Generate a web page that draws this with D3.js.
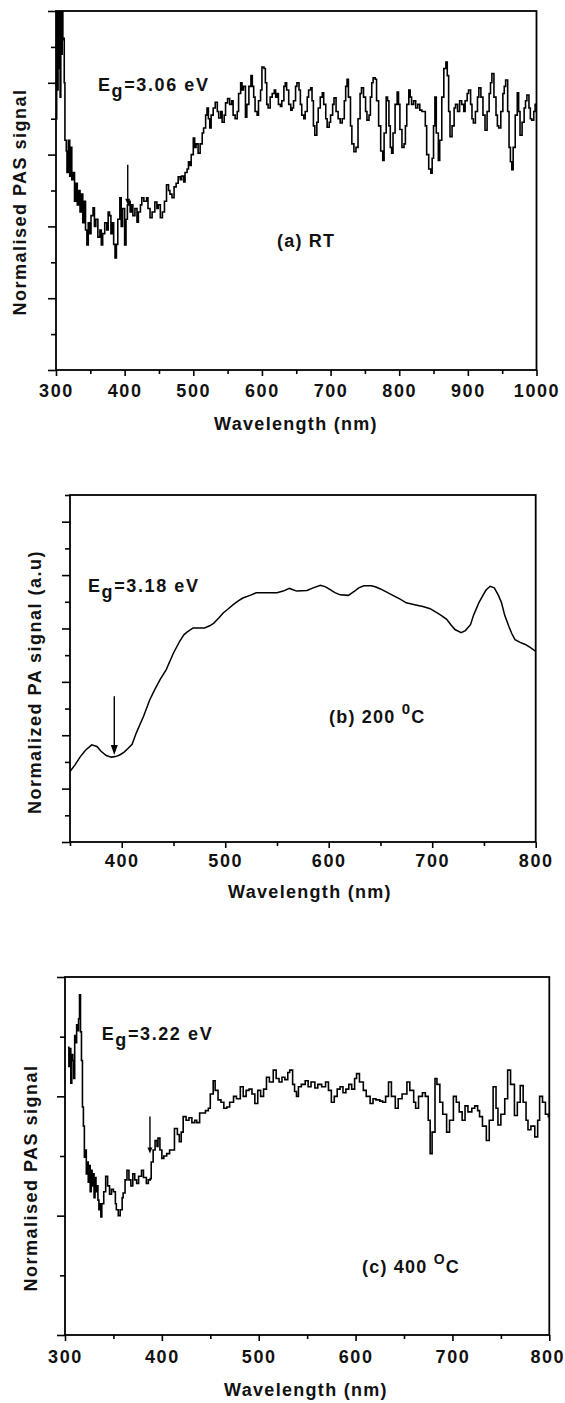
<!DOCTYPE html>
<html>
<head>
<meta charset="utf-8">
<script src="https://cdn.jsdelivr.net/npm/d3@7"></script>
<style>
  html, body { margin: 0; padding: 0; background: #fff; }
  svg { display: block; }
  text { font-family: Arial, "Liberation Sans", sans-serif; font-weight: bold; fill: #111; }
</style>
</head>
<body>
<svg id="chart" width="565" height="1403"></svg>
<script>
// ---------------- DATA ----------------
// (a) RT : [wavelength nm, normalised PAS signal (a.u.)]
const spectrumRT = [
[300,3.5],[301,5.4],[302,3.9],[303,5.4],[304,4.2],[305,5.4],[306,3.8],[307,5.4],[308,4.4],[309,5.3],[310,4.6],[311,4.62],[312,4.0],[313,3.2],
[315,3.05],[316,2.75],[318,3.2],[320,2.7],[321,3.1],[323,2.65],[325,2.75],[327,2.35],[329,2.6],[331,2.3],[333,2.5],[335,2.2],[337,2.45],[339,2.05],[341,2.35],[343,1.95],[345,1.74],[347,2.05],[349,1.9],[351,2.15],[354,2.26],[356,2.0],[358,2.1],[361,1.85],[364,1.95],[366,1.74],[368,1.9],[371,2.05],[374,1.95],[376,2.2],[378,2.15],[380,1.9],[382,2.05],[384,1.75],[386,1.56],[388,1.75],[390,2.1],[393,2.4],[395,2.0],[397,2.25],[400,1.74],[402,2.1],[404,2.3],[406,2.35],[408,2.2],[410,2.3],[412,2.15],[415,2.25],[418,2.06],[420,2.2],[423,2.3],[425,2.4],[428,2.35],[432,2.4],[434,2.25],[437,2.12],[440,2.2],[444,2.34],[447,2.25],[449,2.3],[452,2.12],[455,2.2],[458,2.35],[461,2.58],[464,2.5],[466,2.45],[469,2.4],[472,2.55],[475,2.6],[478,2.69],[481,2.65],[483,2.7],[486,2.62],[488,2.75],[491,2.8],[493,2.9],[495,2.85],[497,3.0],[500,3.23],[502,3.1],[504,3.15],[507,3.02],[510,3.15],[513,3.3],[515,3.37],[518,3.55],[520,3.65],[522,3.5],[524,3.37],[526,3.55],[529,3.65],[532,3.73],[535,3.6],[537,3.51],[540,3.6],
[542,3.45],[545,3.55],[547,3.72],[550,3.78],[553,3.7],[556,3.75],[558,3.55],[561,3.5],[564,3.6],[566,3.85],[569,4.0],[571,3.9],[573,3.95],[576,3.52],[578,3.7],[581,3.95],[584,4.1],[586,3.95],[588,3.8],[590,3.6],[593,3.55],[595,3.75],[598,3.9],[600,4.22],[603,4.2],[605,4.0],[607,3.7],[609,3.65],[612,3.8],[615,3.85],[618,3.9],[620,3.8],[622,3.85],[624,3.7],[627,3.67],[629,3.75],[632,3.95],[634,4.0],[636,3.9],[639,3.7],[642,3.62],[644,3.65],[646,3.75],[649,3.95],[651,4.0],[654,3.9],[656,3.7],[658,3.55],[661,3.5],[663,3.6],[666,3.8],[668,3.9],[671,3.93],[673,3.75],[675,3.4],[677,3.27],[680,3.45],[682,3.65],[685,3.8],[688,3.86],[690,3.7],[693,3.5],[695,3.38],[698,3.45],[700,3.55],[703,3.7],[705,3.79],[708,3.6],[711,3.5],[714,3.44],[717,3.5],[720,3.75],[722,3.95],[724,4.05],[726,3.8],[729,3.4],[731,3.15],[734,3.04],[737,3.1],[740,3.5],[743,3.85],[745,3.93],[748,3.8],[751,3.6],[753,3.48],[756,3.55],[758,3.8],[760,4.0],[762,4.07],[765,4.05],[767,3.75],[770,3.4],[773,3.05],[776,2.92],[778,3.3],[781,3.8],[783,3.75],[785,3.4],[787,3.1],[789,3.02],[791,3.3],[794,3.7],[797,3.87],[799,3.7],[801,3.35],[804,3.1],[807,3.15],[809,3.4],[811,3.7],[814,3.9],[816,3.8],[818,3.7],[821,3.75],[824,3.65],[827,3.7],[830,3.62],[833,3.6],[836,3.6],[838,3.4],[840,3.0],[843,2.8],[846,2.74],[848,2.95],[850,3.4],[852,3.8],[854,3.3],[857,2.92],[859,3.2],[862,3.8],[865,4.2],[868,4.29],[870,4.1],[872,3.6],[874,3.25],[877,3.4],[880,3.65],[882,3.7],[885,3.6],[888,3.75],[891,3.7],[894,3.6],[896,3.75],[899,3.85],[901,3.9],[904,3.7],[906,3.5],[908,3.44],[911,3.6],[914,3.8],[916,3.93],[919,3.8],[922,3.55],[925,3.34],[928,3.6],[931,3.85],[933,4.0],[935,4.13],[938,3.8],[941,3.55],[943,3.4],[945,3.37],[948,3.6],[951,3.85],[953,3.95],[955,4.04],[958,3.6],[960,3.1],[962,2.9],[964,2.79],[966,3.1],[969,3.55],[972,3.86],[974,3.6],[976,3.27],[979,3.45],[982,3.65],[984,3.75],[986,3.83],[989,3.65],[991,3.5],[993,3.48],[996,3.6],[998,3.7],[1000,3.67]
];

// (b) 200 0C : [wavelength nm, normalized PA signal (a.u.)]
const spectrum200 = [
[350,1.32],[355,1.45],[360,1.6],[365,1.72],[371,1.82],[376,1.79],[380,1.7],[385,1.62],[390,1.59],[394,1.6],[398,1.63],[402,1.68],[406,1.75],[410,1.83],[414,2.04],[418,2.22],[421,2.35],[427,2.66],[432,2.86],[437,3.04],[443,3.23],[450,3.54],[456,3.76],[460,3.88],[463,3.93],[469,4.01],[475,4.01],[480,4.01],[485,4.05],[489,4.1],[494,4.2],[498,4.29],[503,4.37],[508,4.45],[513,4.52],[517,4.57],[524,4.62],[530,4.67],[540,4.67],[550,4.67],[556,4.7],[562,4.75],[569,4.7],[579,4.71],[585,4.76],[592,4.81],[597,4.78],[601,4.73],[606,4.67],[611,4.63],[619,4.62],[625,4.7],[629,4.76],[634,4.8],[641,4.8],[645,4.78],[650,4.74],[656,4.68],[662,4.62],[669,4.55],[675,4.48],[684,4.44],[691,4.41],[698,4.37],[704,4.3],[709,4.24],[714,4.17],[718,4.07],[722,3.98],[728,3.92],[732,3.96],[737,4.07],[740,4.25],[745,4.48],[749,4.62],[752,4.72],[756,4.79],[760,4.76],[764,4.62],[767,4.48],[770,4.25],[774,4.04],[777,3.9],[780,3.79],[785,3.74],[790,3.7],[795,3.64],[800,3.57]
];

// (c) 400 oC : [wavelength nm, normalised PAS signal (a.u.)]
const spectrum400 = [
[303,2.41],[304,2.25],[305,2.4],[306,2.11],[307,2.35],[308,2.3],[309,2.15],[310,2.51],[311,2.45],[312,2.6],[313,2.55],[314,2.65],[315,2.85],[316,2.54],[317,2.3],[318,1.91],[319,1.75],[320,1.49],[321,1.55],[322,1.35],[323,1.45],[324,1.28],[325,1.42],[326,1.2],[327,1.38],[328,1.25],[329,1.35],[330,1.15],[331,1.32],[332,1.2],[333,1.25],[334,1.13],[335,1.05],[336,1.1],[337,0.99],[338,1.1],[340,1.2],[342,1.33],[344,1.25],[346,1.18],[348,1.22],[350,1.2],[352,1.1],[353,1.05],[355,1.0],[357,1.05],[359,1.15],[360,1.19],[362,1.3],[364,1.38],[366,1.3],[368,1.25],[370,1.35],[372,1.3],[374,1.27],[376,1.33],[379,1.38],[381,1.32],[384,1.27],[386,1.3],[388,1.31],[389,1.45],[391,1.55],[393,1.63],[395,1.58],[396,1.65],[398,1.55],[400,1.48],[402,1.5],[405,1.52],[408,1.55],[410,1.55],[413,1.73],[416,1.68],[418,1.62],[420,1.7],[422,1.83],[425,1.8],[428,1.82],[431,1.78],[434,1.8],[436,1.78],[439,1.86],[442,1.86],[445,1.88],[448,1.9],[450,2.02],[453,2.13],[455,2.05],[458,1.97],[461,1.95],[464,1.9],[467,1.91],[470,1.95],[474,2.0],[477,1.98],[481,2.08],[484,2.0],[487,2.05],[490,2.06],[493,2.02],[496,1.94],[499,2.05],[502,2.0],[505,2.06],[508,2.16],[511,2.12],[515,2.22],[518,2.15],[521,2.12],[524,2.16],[527,2.14],[530,2.2],[532,2.22],[535,2.1],[537,2.04],[539,2.0],[541,2.08],[544,2.1],[548,2.13],[551,2.08],[554,2.12],[558,2.07],[561,2.1],[565,2.08],[569,2.12],[572,2.05],[575,1.95],[578,2.0],[581,2.06],[584,2.08],[587,2.03],[590,2.06],[593,2.1],[596,2.06],[599,2.15],[601,2.19],[604,2.12],[608,2.05],[611,2.0],[615,1.94],[618,1.98],[621,1.97],[625,1.96],[628,1.95],[631,2.0],[634,2.12],[637,2.0],[641,1.9],[644,1.98],[648,2.02],[653,2.12],[656,2.05],[660,1.95],[662,1.9],[665,2.0],[669,2.03],[672,2.0],[675,1.8],[677,1.52],[679,1.7],[682,2.15],[684,2.1],[687,1.95],[690,1.85],[694,1.7],[697,1.8],[701,2.0],[704,1.95],[707,1.87],[710,1.8],[713,1.92],[716,1.87],[720,1.9],[723,1.92],[726,1.88],[728,1.83],[731,1.75],[735,1.63],[738,1.8],[742,2.08],[745,1.9],[747,1.76],[750,1.85],[754,1.98],[757,2.22],[760,2.1],[764,1.84],[767,1.95],[770,2.09],[773,1.95],[776,1.8],[778,1.72],[781,1.75],[785,1.66],[788,1.8],[790,2.0],[793,1.95],[796,1.85],[799,1.83],[800,1.85]
];

// Tick values
const xMajorA = [300,400,500,600,700,800,900,1000];
const xMinorA = [350,450,550,650,750,850,950];
const yMajorA = [0,1,2,3,4,5];
const yMinorA = [0.5,1.5,2.5,3.5,4.5];

const xMajorB = [400,500,600,700,800];
const xMinorB = [350,450,550,650,750];
const yMajorB = [0,1,2,3,4,5,6];
const yMinorB = [0.5,1.5,2.5,3.5,4.5,5.5,6.5];

const xMajorC = [300,400,500,600,700,800];
const xMinorC = [350,450,550,650,750];
const yMajorC = [0,1,2,3];
const yMinorC = [0.5,1.5,2.5];

// Band-gap arrows: [wavelength, arrow top value, arrow tip value]
const arrowA = [404.5, 2.86, 2.3];
const arrowB = [392.8, 2.73, 1.63];
const arrowC = [387.7, 1.83, 1.52];

// Texts
const labelsA = { y: "Normalised PAS signal", eg: "3.06 eV", tag: ["(a) RT", null, null] };
const labelsB = { y: "Normalized PA signal (a.u)", eg: "3.18 eV", tag: ["(b) 200 ", "0", "C"] };
const labelsC = { y: "Normalised PAS signal", eg: "3.22 eV", tag: ["(c) 400 ", "O", "C"] };
const xTitle = "Wavelength (nm)";

// ---------------- LAYOUT ----------------
const svg = d3.select("#chart");

const panels = [
  { id: "a", data: spectrumRT, xd: [300,1000], xr: [56,536.5], yd: [0,5], yr: [370,11],
    xMaj: xMajorA, xMin: xMinorA, yMaj: yMajorA, yMin: yMinorA, curve: d3.curveStepAfter,
    labels: labelsA, arrow: arrowA, head: [2.5,6], lw: 1.6,
    tickBase: 397, xTitleY: 430, xTitleX: 296, yTitleX: 26, yTitleY: 202,
    egX: 98, egY: 90.7, tagX: 277, tagY: 247.3 },
  { id: "b", data: spectrum200, xd: [350,800], xr: [70,535.7], yd: [0,6.5], yr: [842,495],
    xMaj: xMajorB, xMin: xMinorB, yMaj: yMajorB, yMin: yMinorB, curve: d3.curveLinear,
    labels: labelsB, arrow: arrowB, head: [3.5,10], lw: 1.5,
    tickBase: 866.7, xTitleY: 898, xTitleX: 310, yTitleX: 41, yTitleY: 682,
    egX: 88, egY: 591.7, tagX: 329, tagY: 723.3 },
  { id: "c", data: spectrum400, xd: [300,800], xr: [65,549.3], yd: [0,3], yr: [1335,977],
    xMaj: xMajorC, xMin: xMinorC, yMaj: yMajorC, yMin: yMinorC, curve: d3.curveStepAfter,
    labels: labelsC, arrow: arrowC, head: [2.5,6], lw: 1.6,
    tickBase: 1363.3, xTitleY: 1396, xTitleX: 306, yTitleX: 36.5, yTitleY: 1178,
    egX: 101.7, egY: 1040, tagX: 362, tagY: 1273.3 }
];

const FS = 18;

panels.forEach(p => {
  const x = d3.scaleLinear().domain(p.xd).range(p.xr);
  const y = d3.scaleLinear().domain(p.yd).range(p.yr);
  const g = svg.append("g");

  // clip
  g.append("clipPath").attr("id", "clip-" + p.id)
    .append("rect").attr("x", p.xr[0]).attr("y", p.yr[1])
    .attr("width", p.xr[1] - p.xr[0]).attr("height", p.yr[0] - p.yr[1]);

  // data line
  const line = d3.line().x(d => x(d[0])).y(d => y(d[1])).curve(p.curve);
  g.append("path").datum(p.data)
    .attr("clip-path", "url(#clip-" + p.id + ")")
    .attr("d", line).attr("fill", "none").attr("stroke", "#000")
    .attr("stroke-width", p.lw).attr("stroke-linejoin", "miter");

  // minor ticks
  g.append("g").attr("transform", `translate(0,${p.yr[0]})`)
    .call(d3.axisBottom(x).tickValues(p.xMin).tickSize(4).tickFormat(""))
    .call(s => s.select(".domain").remove())
    .call(s => s.selectAll("line").attr("stroke", "#000").attr("stroke-width", 1.6));
  g.append("g").attr("transform", `translate(${p.xr[0]},0)`)
    .call(d3.axisLeft(y).tickValues(p.yMin).tickSize(5).tickFormat(""))
    .call(s => s.select(".domain").remove())
    .call(s => s.selectAll("line").attr("stroke", "#000").attr("stroke-width", 1.6));

  // major ticks + labels
  const xa = g.append("g").attr("transform", `translate(0,${p.yr[0]})`)
    .call(d3.axisBottom(x).tickValues(p.xMaj).tickSize(6).tickFormat(d3.format("d")))
    .call(s => s.select(".domain").remove())
    .call(s => s.selectAll("line").attr("stroke", "#000").attr("stroke-width", 1.6));
  xa.selectAll("text")
    .attr("y", p.tickBase - p.yr[0]).attr("dy", 0)
    .attr("dx", (d, i, n) => (i === n.length - 1 && p.xr[1] > 545) ? -2 : 0)
    .style("font-family", "Arial, 'Liberation Sans', sans-serif")
    .style("font-weight", "bold").style("font-size", FS + "px")
    .style("letter-spacing", "1.6px").attr("fill", "#111");
  g.append("g").attr("transform", `translate(${p.xr[0]},0)`)
    .call(d3.axisLeft(y).tickValues(p.yMaj).tickSize(8).tickFormat(""))
    .call(s => s.select(".domain").remove())
    .call(s => s.selectAll("line").attr("stroke", "#000").attr("stroke-width", 1.6));

  // frame
  g.append("rect").attr("x", p.xr[0]).attr("y", p.yr[1])
    .attr("width", p.xr[1] - p.xr[0]).attr("height", p.yr[0] - p.yr[1])
    .attr("fill", "none").attr("stroke", "#000").attr("stroke-width", 1.8);

  // arrow
  const ax = x(p.arrow[0]), ay0 = y(p.arrow[1]), ay1 = y(p.arrow[2]);
  g.append("line").attr("x1", ax).attr("x2", ax).attr("y1", ay0).attr("y2", ay1 - p.head[1] + 1)
    .attr("stroke", "#000").attr("stroke-width", 1.4);
  g.append("path")
    .attr("d", `M${ax - p.head[0]},${ay1 - p.head[1]}L${ax + p.head[0]},${ay1 - p.head[1]}L${ax},${ay1}Z`)
    .attr("fill", "#000");

  // axis titles
  g.append("text").attr("x", p.xTitleX).attr("y", p.xTitleY)
    .attr("text-anchor", "middle").style("font-size", FS + "px")
    .style("letter-spacing", "1.3px").text(xTitle);
  g.append("text")
    .attr("transform", `translate(${p.yTitleX},${p.yTitleY}) rotate(-90)`)
    .attr("text-anchor", "middle").style("font-size", FS + "px")
    .style("letter-spacing", "1.5px").text(p.labels.y);

  // Eg label
  const eg = g.append("text").attr("x", p.egX).attr("y", p.egY)
    .style("font-size", FS + "px").style("letter-spacing", "1.6px");
  eg.append("tspan").text("E");
  eg.append("tspan").attr("dy", 6).text("g");
  eg.append("tspan").attr("dy", -6).text("=" + p.labels.eg);

  // sample tag
  const tg = g.append("text").attr("x", p.tagX).attr("y", p.tagY)
    .style("font-size", FS + "px").style("letter-spacing", "1.2px");
  tg.append("tspan").text(p.labels.tag[0]);
  if (p.labels.tag[1]) {
    tg.append("tspan").attr("dy", -9).style("font-size", (p.id === "c" ? 14 : 15) + "px").text(p.labels.tag[1]);
    tg.append("tspan").attr("dy", 9).text(p.labels.tag[2]);
  }
});
</script>
</body>
</html>
